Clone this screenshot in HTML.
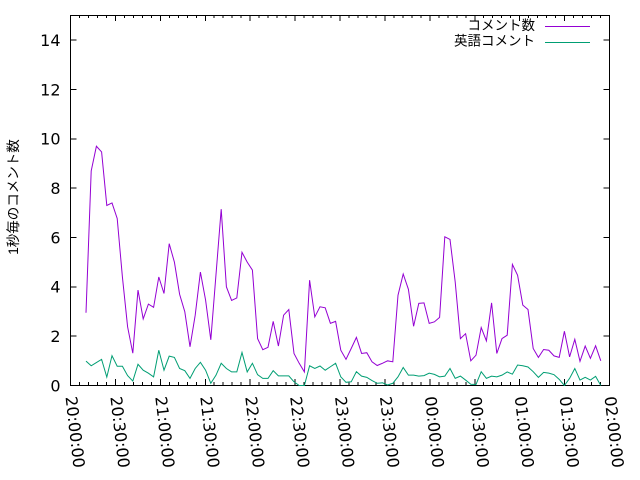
<!DOCTYPE html>
<html><head><meta charset="utf-8"><style>
html,body{margin:0;padding:0;background:#fff;}
svg{display:block;}
.t{font-family:"DejaVu Sans","Liberation Sans",sans-serif;font-size:16px;fill:#000;}
.j{font-family:"Liberation Sans","Noto Sans CJK JP",sans-serif;font-size:13.5px;fill:#000;}
</style></head><body>
<svg width="640" height="480" viewBox="0 0 640 480" xmlns="http://www.w3.org/2000/svg">
<rect width="640" height="480" fill="#fff"/>
<defs><clipPath id="c"><rect x="70" y="15" width="540" height="371"/></clipPath></defs>

<!-- y ticks -->
<path stroke="#000" stroke-width="1" fill="none" shape-rendering="crispEdges" d="
M70.5 385.5h6M609.5 385.5h-6
M70.5 336.17h6M609.5 336.17h-6
M70.5 286.83h6M609.5 286.83h-6
M70.5 237.5h6M609.5 237.5h-6
M70.5 188.17h6M609.5 188.17h-6
M70.5 138.83h6M609.5 138.83h-6
M70.5 89.5h6M609.5 89.5h-6
M70.5 40.17h6M609.5 40.17h-6"/>

<!-- x ticks bottom & top -->
<path stroke="#000" stroke-width="1" fill="none" shape-rendering="crispEdges" d="
M70.5 385v-6M70.5 15v6
M79.48 385v-3M79.48 15v3 M88.47 385v-3M88.47 15v3 M97.45 385v-3M97.45 15v3 M106.43 385v-3M106.43 15v3
M115.42 385v-6M115.42 15v6
M124.4 385v-3M124.4 15v3 M133.38 385v-3M133.38 15v3 M142.37 385v-3M142.37 15v3 M151.35 385v-3M151.35 15v3
M160.33 385v-6M160.33 15v6
M169.32 385v-3M169.32 15v3 M178.3 385v-3M178.3 15v3 M187.28 385v-3M187.28 15v3 M196.27 385v-3M196.27 15v3
M205.25 385v-6M205.25 15v6
M214.23 385v-3M214.23 15v3 M223.22 385v-3M223.22 15v3 M232.2 385v-3M232.2 15v3 M241.18 385v-3M241.18 15v3
M250.17 385v-6M250.17 15v6
M259.15 385v-3M259.15 15v3 M268.13 385v-3M268.13 15v3 M277.12 385v-3M277.12 15v3 M286.1 385v-3M286.1 15v3
M295.08 385v-6M295.08 15v6
M304.07 385v-3M304.07 15v3 M313.05 385v-3M313.05 15v3 M322.03 385v-3M322.03 15v3 M331.02 385v-3M331.02 15v3
M340 385v-6M340 15v6
M348.98 385v-3M348.98 15v3 M357.97 385v-3M357.97 15v3 M366.95 385v-3M366.95 15v3 M375.93 385v-3M375.93 15v3
M384.92 385v-6M384.92 15v6
M393.9 385v-3M393.9 15v3 M402.88 385v-3M402.88 15v3 M411.87 385v-3M411.87 15v3 M420.85 385v-3M420.85 15v3
M429.83 385v-6M429.83 15v6
M438.82 385v-3M438.82 15v3 M447.8 385v-3M447.8 15v3 M456.78 385v-3M456.78 15v3 M465.77 385v-3M465.77 15v3
M474.75 385v-6M474.75 15v6
M483.73 385v-3M483.73 15v3 M492.72 385v-3M492.72 15v3 M501.7 385v-3M501.7 15v3 M510.68 385v-3M510.68 15v3
M519.67 385v-6M519.67 15v6
M528.65 385v-3M528.65 15v3 M537.63 385v-3M537.63 15v3 M546.62 385v-3M546.62 15v3 M555.6 385v-3M555.6 15v3
M564.58 385v-6M564.58 15v6
M573.57 385v-3M573.57 15v3 M582.55 385v-3M582.55 15v3 M591.53 385v-3M591.53 15v3 M600.52 385v-3M600.52 15v3
M609.5 385v-6M609.5 15v6"/>

<!-- frame -->
<rect x="70.5" y="15.5" width="539" height="370" fill="none" stroke="#000" stroke-width="1" shape-rendering="crispEdges"/>

<!-- y tick labels -->
<g class="t" text-anchor="end">
<text x="60.5" y="391.3">0</text>
<text x="60.5" y="342">2</text>
<text x="60.5" y="292.6">4</text>
<text x="60.5" y="243.3">6</text>
<text x="60.5" y="194">8</text>
<text x="60.5" y="144.6">10</text>
<text x="60.5" y="95.3">12</text>
<text x="60.5" y="46">14</text>
</g>

<!-- x tick labels -->
<g class="t">
<text transform="translate(65.5,397) rotate(83.5)">20:00:00</text>
<text transform="translate(110.4,397) rotate(83.5)">20:30:00</text>
<text transform="translate(155.3,397) rotate(83.5)">21:00:00</text>
<text transform="translate(200.2,397) rotate(83.5)">21:30:00</text>
<text transform="translate(245.2,397) rotate(83.5)">22:00:00</text>
<text transform="translate(290.1,397) rotate(83.5)">22:30:00</text>
<text transform="translate(335,397) rotate(83.5)">23:00:00</text>
<text transform="translate(379.9,397) rotate(83.5)">23:30:00</text>
<text transform="translate(424.8,397) rotate(83.5)">00:00:00</text>
<text transform="translate(469.7,397) rotate(83.5)">00:30:00</text>
<text transform="translate(514.7,397) rotate(83.5)">01:00:00</text>
<text transform="translate(559.6,397) rotate(83.5)">01:30:00</text>
<text transform="translate(604.5,397) rotate(83.5)">02:00:00</text>
</g>

<!-- y axis label -->
<text class="j" text-anchor="middle" transform="translate(18,197) rotate(-90)">1秒毎のコメント数</text>

<!-- series -->
<g clip-path="url(#c)">
<g transform="translate(86,385.5) scale(5.2,-24.667)">
<polyline fill="none" stroke="#9400d3" stroke-width="1" vector-effect="non-scaling-stroke" points="
0,2.95 1,8.7 2,9.7 3,9.47 4,7.3 5,7.4 6,6.77 7,4.4 8,2.38 9,1.31
10,3.87 11,2.7 12,3.3 13,3.17 14,4.4 15,3.73 16,5.75 17,5.0 18,3.7 19,2.99
20,1.57 21,2.85 22,4.6 23,3.46 24,1.85 25,4.5 26,7.15 27,4.0 28,3.45 29,3.55
30,5.4 31,5.0 32,4.68 33,1.9 34,1.45 35,1.55 36,2.6 37,1.6 38,2.85 39,3.08
40,1.3 41,0.9 42,0.55 43,4.27 44,2.78 45,3.19 46,3.15 47,2.52 48,2.6 49,1.43
50,1.06 51,1.5 52,1.95 53,1.3 54,1.33 55,0.96 56,0.81 57,0.9 58,1.0 59,0.96
60,3.66 61,4.52 62,3.9 63,2.4 64,3.33 65,3.35 66,2.52 67,2.58 68,2.76 69,6.03
70,5.92 71,4.2 72,1.9 73,2.1 74,1.0 75,1.23 76,2.35 77,1.81 78,3.35 79,1.3
80,1.9 81,2.04 82,4.91 83,4.47 84,3.26 85,3.08 86,1.5 87,1.14 88,1.46 89,1.43
90,1.2 91,1.14 92,2.2 93,1.16 94,1.87 95,0.98 96,1.6 97,1.1 98,1.61 99,1.0"/>
<polyline fill="none" stroke="#009e73" stroke-width="1" vector-effect="non-scaling-stroke" points="
0,0.99 1,0.8 2,0.93 3,1.06 4,0.34 5,1.21 6,0.78 7,0.78 8,0.4 9,0.18
10,0.86 11,0.62 12,0.5 13,0.35 14,1.43 15,0.62 16,1.19 17,1.14 18,0.69 19,0.6
20,0.29 21,0.69 22,0.94 23,0.62 24,0.09 25,0.42 26,0.9 27,0.69 28,0.55 29,0.55
30,1.34 31,0.55 32,0.9 33,0.44 34,0.29 35,0.29 36,0.6 37,0.39 38,0.39 39,0.39
40,0.15 41,0 42,0 43,0.8 44,0.69 45,0.79 46,0.62 47,0.76 48,0.9 49,0.35
50,0.13 51,0.15 52,0.56 53,0.38 54,0.33 55,0.2 56,0.09 57,0.11 58,0.02 59,0.09
60,0.35 61,0.73 62,0.42 63,0.42 64,0.38 65,0.4 66,0.5 67,0.45 68,0.35 69,0.38
70,0.69 71,0.29 72,0.38 73,0.22 74,0.05 75,0.04 76,0.56 77,0.29 78,0.38 79,0.35
80,0.42 81,0.55 82,0.46 83,0.83 84,0.8 85,0.75 86,0.56 87,0.33 88,0.53 89,0.5
90,0.44 91,0.25 92,0 93,0.29 94,0.69 95,0.22 96,0.33 97,0.22 98,0.37 99,0"/>
</g>
</g>

<!-- legend -->
<g class="j" text-anchor="end">
<text x="535" y="30">コメント数</text>
<text x="535" y="45.5">英語コメント</text>
</g>
<path d="M545 26.5H590" stroke="#9400d3" stroke-width="1" shape-rendering="crispEdges"/>
<path d="M545 42.5H590" stroke="#009e73" stroke-width="1" shape-rendering="crispEdges"/>
</svg>
</body></html>
